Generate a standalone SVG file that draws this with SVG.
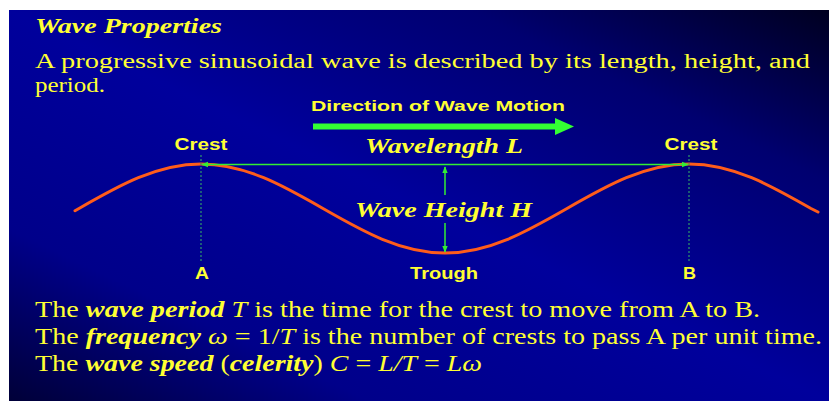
<svg xmlns="http://www.w3.org/2000/svg" width="829" height="401" viewBox="0 0 829 401">
<defs>
<linearGradient id="bg" x1="1" y1="0" x2="0" y2="1">
<stop offset="0" stop-color="#000020"/>
<stop offset="0.22" stop-color="#000070"/>
<stop offset="0.5" stop-color="#00009c"/>
<stop offset="0.78" stop-color="#00008a"/>
<stop offset="1" stop-color="#000038"/>
</linearGradient>
<marker id="ah" viewBox="0 0 10 10" refX="9" refY="5" markerWidth="7" markerHeight="7" orient="auto-start-reverse" markerUnits="userSpaceOnUse">
<path d="M0,1 L10,5 L0,9 Z" fill="#33ee33"/>
</marker>
</defs>
<style>
.title{font-family:"Liberation Serif",serif;font-weight:bold;font-style:italic;fill:#ffff33}
.serif{font-family:"Liberation Serif",serif;fill:#ffff33}
.bi{font-weight:bold;font-style:italic}
.it{font-style:italic}
.sans{font-family:"Liberation Sans",Arial,sans-serif;font-weight:bold;fill:#ffff33}
.thin{stroke:#33ee33;stroke-width:1.5;fill:none}
.dash{stroke:#2f9a6a;stroke-width:1.2;stroke-dasharray:2 2;fill:none}
</style>
<rect x="0" y="0" width="829" height="401" fill="#ffffff"/>
<rect x="9" y="10" width="820" height="391" fill="url(#bg)"/>

<g id="title">
<text class="title" x="35" y="33" font-size="22" textLength="187" lengthAdjust="spacingAndGlyphs">Wave Properties</text>
</g>
<g id="intro">
<text class="serif" x="35" y="68" font-size="20.5" textLength="775" lengthAdjust="spacingAndGlyphs">A progressive sinusoidal wave is described by its length, height, and</text>
<text class="serif" x="35" y="92" font-size="20.5" textLength="70" lengthAdjust="spacingAndGlyphs">period.</text>
</g>

<g id="direction">
<text class="sans" x="311" y="110.5" font-size="15.5" textLength="254" lengthAdjust="spacingAndGlyphs">Direction of Wave Motion</text>
<line x1="313" y1="126.5" x2="557" y2="126.5" stroke="#33ff33" stroke-width="6"/>
<path d="M555,118 L574,126.5 L555,135 Z" fill="#33ff33"/>
</g>

<g id="wave">
<path d="M75,210.8 L79,208.5 C118.78,185.7 156.85,164 201,164 C245.15,164 283.22,185.7 323,208.5 C362.78,231.3 400.85,253 445,253 C489.15,253 527.22,231.3 567,208.5 C606.78,185.7 644.85,164 689,164 C733.15,164 771.22,185.7 811,208.5 L818,212" fill="none" stroke="#ff5c1a" stroke-width="3" stroke-linecap="round"/>
</g>

<g id="connectors">
<line class="dash" x1="201" y1="155" x2="201" y2="263"/>
<line class="dash" x1="689" y1="155" x2="689" y2="263"/>
<line class="thin" x1="202" y1="164.5" x2="688" y2="164.5" marker-start="url(#ah)" marker-end="url(#ah)"/>
<line class="thin" x1="445" y1="195" x2="445" y2="167" marker-end="url(#ah)"/>
<line class="thin" x1="445" y1="223" x2="445" y2="252" marker-end="url(#ah)"/>
</g>

<g id="crestA">
<text class="sans" x="201" y="150" font-size="16.5" text-anchor="middle" textLength="53" lengthAdjust="spacingAndGlyphs">Crest</text>
</g>
<g id="crestB">
<text class="sans" x="691" y="150" font-size="16.5" text-anchor="middle" textLength="53" lengthAdjust="spacingAndGlyphs">Crest</text>
</g>
<g id="wavelength">
<text class="title" x="365" y="153" font-size="20.5" textLength="158" lengthAdjust="spacingAndGlyphs">Wavelength L</text>
</g>
<g id="waveheight">
<text class="title" x="355" y="217" font-size="20.5" textLength="177" lengthAdjust="spacingAndGlyphs">Wave Height H</text>
</g>
<g id="pointA">
<text class="sans" x="202" y="279" font-size="16.5" text-anchor="middle" textLength="14" lengthAdjust="spacingAndGlyphs">A</text>
</g>
<g id="trough">
<text class="sans" x="444" y="279" font-size="16.5" text-anchor="middle" textLength="68" lengthAdjust="spacingAndGlyphs">Trough</text>
</g>
<g id="pointB">
<text class="sans" x="689.5" y="279" font-size="16.5" text-anchor="middle" textLength="13" lengthAdjust="spacingAndGlyphs">B</text>
</g>

<g id="definitions">
<text class="serif" x="35" y="317" font-size="22.5" textLength="725" lengthAdjust="spacingAndGlyphs">The <tspan class="bi">wave period</tspan> <tspan class="it">T</tspan> is the time for the crest to move from A to B.</text>
<text class="serif" x="35" y="344" font-size="22.5" textLength="787" lengthAdjust="spacingAndGlyphs">The <tspan class="bi">frequency</tspan> <tspan class="it">ω</tspan> = 1/<tspan class="it">T</tspan> is the number of crests to pass A per unit time.</text>
<text class="serif" x="35" y="370.5" font-size="22.5" textLength="447" lengthAdjust="spacingAndGlyphs">The <tspan class="bi">wave speed</tspan> (<tspan class="bi">celerity</tspan>) <tspan class="it">C</tspan> = <tspan class="it">L/T</tspan> = <tspan class="it">Lω</tspan></text>
</g>
</svg>
